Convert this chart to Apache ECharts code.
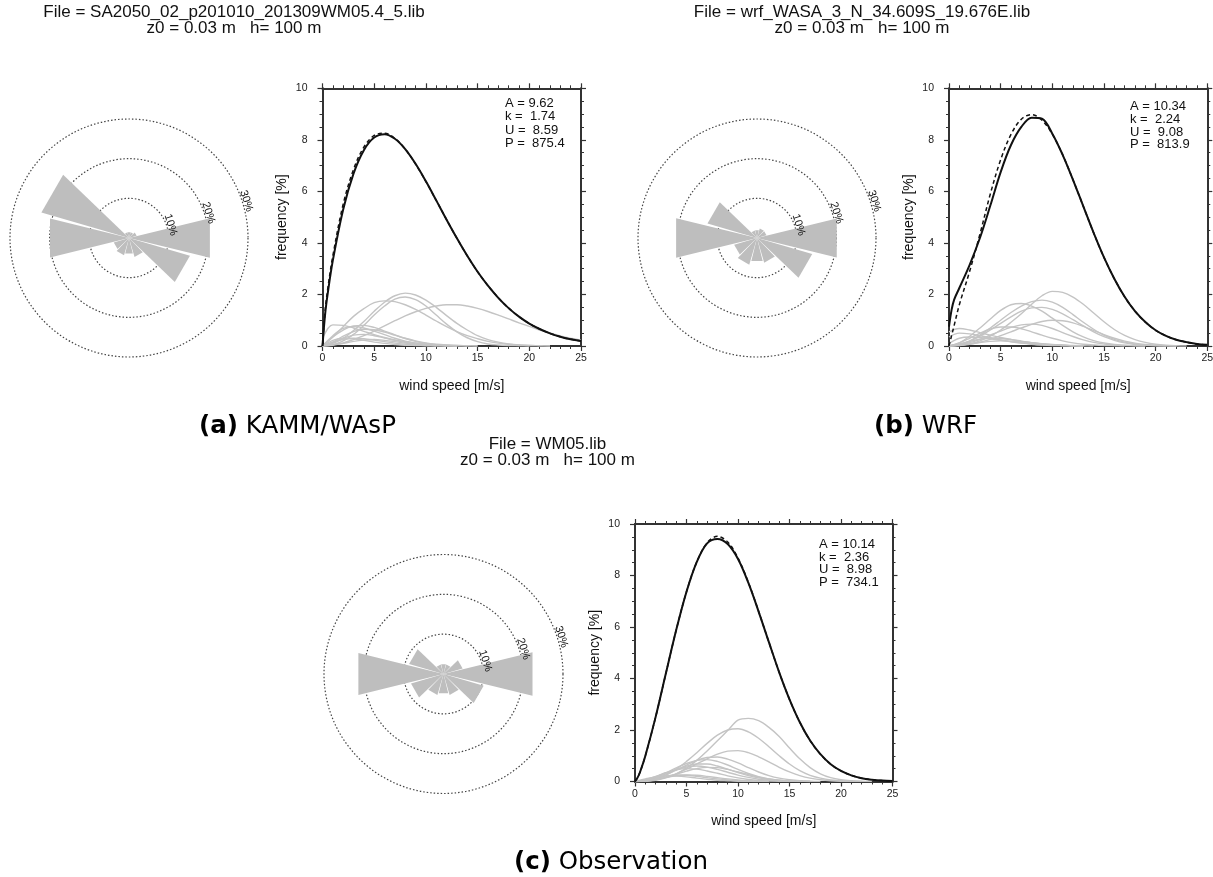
<!DOCTYPE html>
<html>
<head>
<meta charset="utf-8">
<script src="https://cdn.jsdelivr.net/npm/echarts@6/dist/echarts.min.js"></script>
<style>
  html, body { margin: 0; padding: 0; background: #fff; }
  #chart { width: 1213px; height: 877px; }
</style>
</head>
<body>
<div id="chart"></div>
<script>
// ---------------- data ----------------
// wind speed samples (m/s)
const speeds = [0,1,2,3,4,5,6,7,8,9,10,11,12,13,14,15,16,17,18,19,20,21,22,23,24,25];
const speedsFine = [0,0.25,0.5,1,2,3,4,5,6,7,8,9,10,11,12,13,14,15,16,17,18,19,20,21,22,23,24,25];
// wind rose sector centres (deg, clockwise from north)
const directions = [0,30,60,90,120,150,180,210,240,270,300,330];
const ringLevels = [10,20,30];

// sector frequencies (%)
const roseA = [1.5, 1.5, 2, 21, 16, 5, 4, 4.5, 4, 20.5, 23, 1.5];
const roseB = [2, 2.5, 2.5, 20.7, 14.5, 6.5, 6, 7, 6, 21, 13, 2];
const roseC = [2.5, 2.5, 5, 23, 10.5, 5.5, 5, 5.5, 8.5, 22, 9, 2.5];

// all-sector frequency distributions (%), sampled at speedsFine
const totalSolidA  = [0,1.22,2.02,3.32,5.30,6.69,7.60,8.09,8.22,8.04,7.64,7.07,6.39,5.65,4.90,4.18,3.50,2.88,2.34,1.87,1.47,1.14,0.87,0.66,0.49,0.36,0.26,0.19];
const totalDashedA = [0,1.35,2.20,3.50,5.50,6.85,7.72,8.17,8.26,8.06,7.64,7.06,6.38,5.65,4.90,4.18,3.50,2.88,2.34,1.87,1.47,1.14,0.87,0.66,0.49,0.36,0.26,0.19];
const totalSolidB  = [0.75,1.40,1.80,2.25,3.15,4.20,5.45,6.75,7.80,8.50,8.86,8.82,8.24,7.42,6.45,5.42,4.39,3.44,2.61,1.91,1.35,0.93,0.61,0.39,0.24,0.15,0.08,0.05];
const totalDashedB = [0,0.40,0.80,1.60,2.90,4.35,5.90,7.23,8.21,8.80,8.98,8.76,8.22,7.42,6.45,5.42,4.39,3.44,2.61,1.91,1.35,0.93,0.61,0.39,0.24,0.15,0.08,0.05];
const totalSolidC  = [0,0.15,0.38,0.99,2.50,4.20,5.88,7.37,8.53,9.25,9.42,9.22,8.64,7.72,6.60,5.41,4.24,3.19,2.30,1.59,1.06,0.67,0.41,0.24,0.13,0.07,0.035,0.017];
const totalDashedC = [0,0.15,0.38,0.99,2.50,4.20,5.88,7.37,8.53,9.27,9.52,9.30,8.68,7.74,6.61,5.41,4.24,3.19,2.30,1.59,1.06,0.67,0.41,0.24,0.13,0.07,0.035,0.017];

// sector-wise frequency distributions (%), sampled at speeds
const sectorCurvesA = [
  [0,0.1,0.3,0.6,0.95,1.35,1.7,1.95,2.05,1.98,1.78,1.5,1.18,0.88,0.62,0.4,0.25,0.15,0.08,0.04,0.02,0.01,0],
  [0,0.35,0.75,1.15,1.45,1.68,1.75,1.72,1.6,1.42,1.2,0.97,0.75,0.56,0.4,0.28,0.18,0.11,0.07,0.04,0.02,0.01,0],
  [0,0.05,0.2,0.45,0.8,1.2,1.55,1.82,1.9,1.8,1.55,1.2,0.85,0.55,0.32,0.17,0.08,0.04,0.02,0.01,0],
  [0,0.05,0.12,0.25,0.4,0.58,0.78,0.98,1.17,1.33,1.46,1.55,1.6,1.6,1.55,1.46,1.34,1.2,1.05,0.9,0.76,0.62,0.5,0.39,0.3,0.23],
  [0,0.35,0.62,0.78,0.8,0.72,0.58,0.43,0.29,0.18,0.1,0.05,0.02,0.01,0],
  [0,0.4,0.68,0.75,0.7,0.58,0.44,0.3,0.19,0.11,0.06,0.03,0.01,0],
  [0.3,0.82,0.8,0.7,0.57,0.44,0.33,0.24,0.17,0.12,0.08,0.05,0.03,0.02,0.01,0],
  [0,0.15,0.38,0.56,0.65,0.63,0.54,0.42,0.3,0.2,0.12,0.07,0.04,0.02,0.01,0],
  [0,0.12,0.3,0.42,0.45,0.4,0.31,0.22,0.14,0.08,0.04,0.02,0.01,0],
  [0,0.22,0.3,0.28,0.22,0.15,0.1,0.06,0.03,0.02,0.01,0],
  [0,0.03,0.1,0.18,0.23,0.25,0.22,0.17,0.11,0.07,0.04,0.02,0.01,0],
  [0,0.15,0.25,0.3,0.28,0.23,0.17,0.11,0.07,0.04,0.02,0.01,0]
];
const sectorCurvesB = [
  [0,0.02,0.08,0.2,0.38,0.62,0.92,1.25,1.62,1.95,2.12,2.08,1.9,1.62,1.28,0.94,0.64,0.41,0.25,0.14,0.07,0.03,0.01,0],
  [0,0.06,0.2,0.42,0.7,1.0,1.3,1.55,1.72,1.78,1.7,1.5,1.22,0.92,0.65,0.42,0.26,0.15,0.08,0.04,0.02,0.01,0],
  [0,0.12,0.38,0.7,1.05,1.38,1.6,1.65,1.55,1.35,1.08,0.8,0.55,0.35,0.21,0.12,0.06,0.03,0.01,0],
  [0,0.05,0.18,0.38,0.62,0.88,1.13,1.35,1.48,1.5,1.42,1.25,1.02,0.78,0.55,0.36,0.22,0.12,0.06,0.03,0.01,0],
  [0,0.02,0.07,0.15,0.26,0.4,0.55,0.7,0.84,0.95,1.0,0.98,0.9,0.76,0.6,0.44,0.3,0.19,0.11,0.06,0.03,0.01,0],
  [0,0.04,0.13,0.26,0.42,0.58,0.72,0.82,0.85,0.8,0.68,0.52,0.37,0.24,0.14,0.08,0.04,0.02,0.01,0],
  [0,0.12,0.3,0.5,0.66,0.74,0.74,0.67,0.55,0.42,0.3,0.2,0.12,0.07,0.04,0.02,0.01,0],
  [0.55,0.68,0.62,0.52,0.42,0.33,0.25,0.18,0.13,0.09,0.06,0.04,0.02,0.01,0],
  [0.35,0.5,0.47,0.4,0.32,0.24,0.17,0.12,0.08,0.05,0.03,0.02,0.01,0],
  [0.1,0.3,0.35,0.33,0.28,0.22,0.16,0.11,0.07,0.04,0.02,0.01,0],
  [0,0.08,0.18,0.26,0.3,0.29,0.25,0.19,0.13,0.08,0.05,0.02,0.01,0],
  [0,0.03,0.08,0.13,0.18,0.2,0.19,0.16,0.12,0.08,0.05,0.03,0.01,0]
];
const sectorCurvesC = [
  [0,0.01,0.05,0.14,0.3,0.52,0.82,1.18,1.58,1.98,2.38,2.45,2.36,2.1,1.75,1.3,0.88,0.54,0.3,0.15,0.07,0.03,0.01,0],
  [0,0.02,0.1,0.25,0.48,0.78,1.12,1.48,1.8,2.0,2.05,1.93,1.68,1.35,1.0,0.68,0.42,0.24,0.13,0.06,0.03,0.01,0],
  [0,0.02,0.07,0.16,0.3,0.48,0.68,0.88,1.06,1.18,1.2,1.12,0.96,0.76,0.55,0.37,0.23,0.13,0.07,0.03,0.01,0],
  [0,0.03,0.12,0.26,0.44,0.64,0.82,0.93,0.95,0.87,0.72,0.54,0.37,0.23,0.13,0.07,0.03,0.01,0],
  [0,0.05,0.17,0.34,0.53,0.7,0.82,0.85,0.78,0.64,0.47,0.31,0.19,0.1,0.05,0.02,0.01,0],
  [0,0.05,0.16,0.3,0.46,0.6,0.68,0.68,0.6,0.48,0.35,0.23,0.14,0.08,0.04,0.02,0.01,0],
  [0,0.06,0.18,0.32,0.46,0.56,0.6,0.56,0.47,0.36,0.25,0.16,0.09,0.05,0.02,0.01,0],
  [0,0.02,0.08,0.17,0.28,0.4,0.5,0.55,0.54,0.47,0.37,0.27,0.17,0.1,0.05,0.02,0.01,0],
  [0,0.07,0.2,0.34,0.45,0.5,0.48,0.41,0.32,0.22,0.14,0.08,0.04,0.02,0.01,0],
  [0,0.05,0.13,0.21,0.25,0.24,0.2,0.15,0.1,0.06,0.03,0.01,0],
  [0,0.03,0.09,0.16,0.22,0.25,0.24,0.2,0.15,0.1,0.06,0.03,0.01,0],
  [0,0.1,0.18,0.22,0.21,0.18,0.13,0.09,0.05,0.03,0.01,0]
];

// Weibull fit parameters and power density per panel
const weibullA = [9.62, 10.34, 10.14];
const weibullK = [1.74, 2.24, 2.36];
const meanU    = [8.59, 9.08, 8.98];
const powerP   = [875.4, 813.9, 734.1];

// file header text
const fileNames = ['SA2050_02_p201010_201309WM05.4_5.lib', 'wrf_WASA_3_N_34.609S_19.676E.lib', 'WM05.lib'];
const roughness = [0.03, 0.03, 0.03];
const heights   = [100, 100, 100];
const captionTags  = ['(a)', '(b)', '(c)'];
const captionNames = ['KAMM/WAsP', 'WRF', 'Observation'];

// ---------------- layout & style ----------------
const FONT = '"Liberation Sans", Arial, Helvetica, sans-serif';
const CAPTION_FONT = '"DejaVu Sans", "Noto Sans", sans-serif';
const AXIS_COLOR = '#333';
const PETAL_COLOR = '#bebebe';
const GRAY_LINE = '#c4c4c4';
const petalHalfWidth = 13.8;
const ringLabelAngle = 72.5;

const layout = [
  { grid: { left: 322.5, top: 88.3, width: 258.5, height: 257.7 },
    rose: { center: [129, 238], radius: 119 },
    stats: { x: 505, y: 97, lh: 13.2 },
    title: { x: 234, y1: 12, y2: 28.5 },
    caption: { x: 297.5, y: 427 } },
  { grid: { left: 949, top: 88.3, width: 258.3, height: 257.7 },
    rose: { center: [757, 238], radius: 119 },
    stats: { x: 1130, y: 100, lh: 12.8 },
    title: { x: 862, y1: 12, y2: 28.5 },
    caption: { x: 925.5, y: 427 } },
  { grid: { left: 635, top: 524, width: 257.5, height: 257.5 },
    rose: { center: [443.5, 674], radius: 119.5 },
    stats: { x: 819, y: 538.5, lh: 12.5 },
    title: { x: 547.5, y1: 444, y2: 460.5 },
    caption: { x: 611, y: 863 } }
];

const panelData = [
  { rose: roseA, solid: totalSolidA, dashed: totalDashedA, sectors: sectorCurvesA },
  { rose: roseB, solid: totalSolidB, dashed: totalDashedB, sectors: sectorCurvesB },
  { rose: roseC, solid: totalSolidC, dashed: totalDashedC, sectors: sectorCurvesC }
];

// ---------------- option building ----------------
const grids = [], xAxes = [], yAxes = [], polars = [], angleAxes = [], radiusAxes = [], series = [], graphics = [];

function frameAxis(base, labelled, minorSplit) {
  return Object.assign({
    type: 'value',
    axisLine: { show: true, onZero: false, lineStyle: { color: AXIS_COLOR, width: 2 } },
    axisTick: { show: true, inside: false, length: 5, lineStyle: { color: AXIS_COLOR, width: 1.2 } },
    minorTick: { show: true, splitNumber: minorSplit, length: 3, lineStyle: { color: AXIS_COLOR, width: 1 } },
    splitLine: { show: false },
    minorSplitLine: { show: false },
    axisLabel: { show: labelled, fontFamily: FONT, fontSize: 10.5, color: '#222',
                 showMinLabel: true, showMaxLabel: true, hideOverlap: false },
    nameMoveOverlap: false
  }, base);
}

const axisNameStyle = { fontFamily: FONT, fontSize: 14, color: '#111' };

layout.forEach((L, p) => {
  const D = panelData[p];
  grids.push(Object.assign({ outerBoundsMode: 'none', containLabel: false }, L.grid));

  const xb = frameAxis({ gridIndex: p, position: 'bottom', min: 0, max: 25, interval: 5,
    name: 'wind speed [m/s]', nameLocation: 'middle', nameGap: 33, nameTextStyle: axisNameStyle }, true, 5);
  xb.axisLabel.margin = 7;
  xAxes.push(xb);
  xAxes.push(frameAxis({ gridIndex: p, position: 'top', min: 0, max: 25, interval: 5 }, false, 5));

  const yl = frameAxis({ gridIndex: p, position: 'left', min: 0, max: 10, interval: 2,
    name: 'frequency [%]', nameLocation: 'middle', nameGap: 33, nameTextStyle: axisNameStyle }, true, 4);
  yl.axisLabel.margin = 15;
  yAxes.push(yl);
  yAxes.push(frameAxis({ gridIndex: p, position: 'right', min: 0, max: 10, interval: 2 }, false, 4));

  const xi = 2 * p, yi = 2 * p;

  // sector curves (gray)
  D.sectors.forEach((vals) => {
    series.push({
      type: 'line', xAxisIndex: xi, yAxisIndex: yi, smooth: 0.35, showSymbol: false, silent: true,
      lineStyle: { color: GRAY_LINE, width: 1.4 }, z: 2,
      data: vals.map((v, i) => [speeds[i], v])
    });
  });
  // all-sector curves
  series.push({
    type: 'line', xAxisIndex: xi, yAxisIndex: yi, smooth: 0.35, showSymbol: false, silent: true,
    lineStyle: { color: '#111', width: 2 }, z: 3,
    data: D.solid.map((v, i) => [speedsFine[i], v])
  });
  series.push({
    type: 'line', xAxisIndex: xi, yAxisIndex: yi, smooth: 0.35, showSymbol: false, silent: true,
    lineStyle: { color: '#111', width: 1.5, type: [4, 3] }, z: 4,
    data: D.dashed.map((v, i) => [speedsFine[i], v])
  });

  // wind rose
  polars.push({ center: L.rose.center, radius: L.rose.radius });
  angleAxes.push({ polarIndex: p, type: 'value', min: 0, max: 360, startAngle: 90, clockwise: true,
    axisLine: { show: false }, axisTick: { show: false }, axisLabel: { show: false }, splitLine: { show: false } });
  radiusAxes.push({ polarIndex: p, type: 'value', min: 0, max: 30, interval: 10,
    axisLine: { show: false }, axisTick: { show: false }, axisLabel: { show: false },
    splitLine: { show: true, lineStyle: { color: '#444', width: 1.2, type: [1.5, 2] } } });

  series.push({
    type: 'custom', coordinateSystem: 'polar', polarIndex: p, silent: true, z: 3,
    data: D.rose.map((v, i) => [v, directions[i]]),
    renderItem(params, api) {
      const r = api.value(0), dir = api.value(1);
      const o = api.coord([0, dir]);
      const p1 = api.coord([r, dir - petalHalfWidth]);
      const p2 = api.coord([r, dir + petalHalfWidth]);
      return { type: 'polygon', shape: { points: [o, p1, p2] }, style: { fill: PETAL_COLOR } };
    }
  });
  series.push({
    type: 'custom', coordinateSystem: 'polar', polarIndex: p, silent: true, z: 5,
    data: ringLevels.map(v => [v, ringLabelAngle]),
    renderItem(params, api) {
      const v = api.value(0), a = api.value(1);
      const pt = api.coord([v + 1.0, a]);
      return { type: 'text', x: pt[0], y: pt[1], rotation: -a * Math.PI / 180,
        style: { text: v + '%', fontFamily: FONT, fontSize: 11, fill: '#111', align: 'center', verticalAlign: 'middle' } };
    }
  });

  // header lines
  graphics.push({ type: 'text', x: L.title.x, y: L.title.y1, silent: true,
    style: { text: 'File = ' + fileNames[p], fontFamily: FONT, fontSize: 17, fill: '#111', align: 'center', verticalAlign: 'middle' } });
  graphics.push({ type: 'text', x: L.title.x, y: L.title.y2, silent: true,
    style: { text: 'z0 = ' + roughness[p].toFixed(2) + ' m   h= ' + heights[p] + ' m', fontFamily: FONT, fontSize: 17, fill: '#111', align: 'center', verticalAlign: 'middle' } });

  // Weibull parameter box
  const statLines = [
    'A = ' + weibullA[p].toFixed(2),
    'k =  ' + weibullK[p].toFixed(2),
    'U =  ' + meanU[p].toFixed(2),
    'P =  ' + powerP[p].toFixed(1)
  ];
  graphics.push({ type: 'text', x: L.stats.x, y: L.stats.y, silent: true,
    style: { text: statLines.join('\n'), fontFamily: FONT, fontSize: 13, lineHeight: L.stats.lh, fill: '#111', align: 'left', verticalAlign: 'top' } });

  // subfigure caption
  graphics.push({ type: 'text', x: L.caption.x, y: L.caption.y, silent: true,
    style: { text: '{b|' + captionTags[p] + '} ' + captionNames[p], fontFamily: CAPTION_FONT, fontSize: 24.5, fill: '#000',
      align: 'center', verticalAlign: 'middle',
      rich: { b: { fontFamily: CAPTION_FONT, fontSize: 24.5, fontWeight: 'bold', fill: '#000' } } } });
});

const chart = echarts.init(document.getElementById('chart'), null, { renderer: 'canvas' });
chart.setOption({
  backgroundColor: '#fff',
  animation: false,
  grid: grids,
  xAxis: xAxes,
  yAxis: yAxes,
  polar: polars,
  angleAxis: angleAxes,
  radiusAxis: radiusAxes,
  series: series,
  graphic: { elements: graphics }
});
</script>
</body>
</html>
